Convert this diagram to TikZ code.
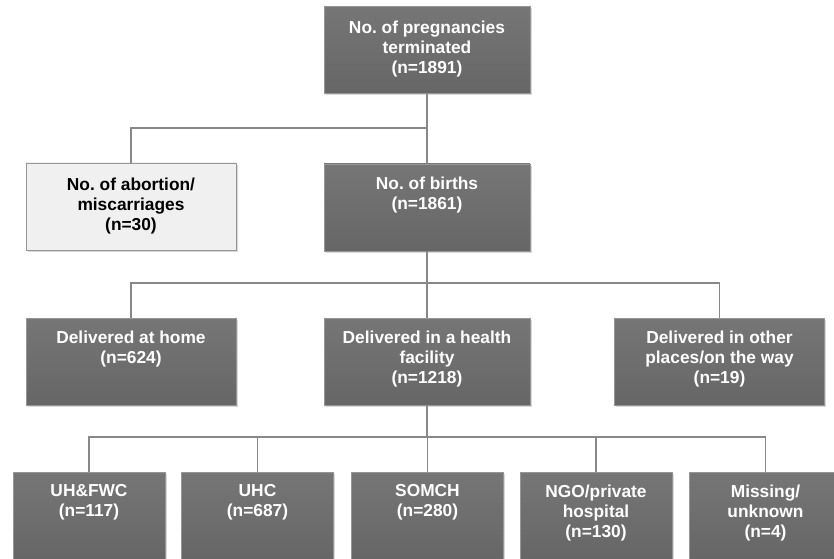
\documentclass[tikz,border=0pt]{standalone}
\usepackage{fontspec}
\setmainfont{Liberation Sans}
\usetikzlibrary{shadows}
\definecolor{boxgray}{RGB}{102,102,102}
\definecolor{boxtop}{RGB}{118,118,118}
\definecolor{boxedge}{RGB}{150,150,150}
\definecolor{linegray}{RGB}{136,136,136}
\definecolor{lightbox}{RGB}{240,240,240}
\definecolor{lightedge}{RGB}{150,150,150}
\frenchspacing
\begin{document}
\begin{tikzpicture}[x=0.75pt,y=-0.75pt,
  box/.style={rectangle, draw=boxedge, line width=0.6pt, top color=boxtop, bottom color=boxgray, inner sep=0pt,
    minimum height=65.25pt,
    drop shadow={opacity=0.3, shadow xshift=1.2pt, shadow yshift=-1.5pt}},
  wide/.style={minimum width=154.5pt},
  wider/.style={minimum width=157.5pt},
  small/.style={minimum width=114pt},
  lbox/.style={box, top color=lightbox, bottom color=lightbox, draw=lightedge},
  txt/.style={anchor=north, align=center, inner sep=0pt, text=white,
    font=\bfseries\fontsize{13}{15}\selectfont},
  dtxt/.style={txt, text=black},
  conn/.style={draw=linegray, line width=1.4pt}
]
\fill[white] (0,0) rectangle (834,559);
\useasboundingbox (0,0) rectangle (834,559);

% boxes
\node[box, wide] (top) at (427,50) {};
\node[lbox, wider] (abort) at (131,206.5) {};
\node[box, wide] (births) at (427,207.5) {};
\node[box, wider] (home) at (131,361.5) {};
\node[box, wide] (facil) at (427,361.5) {};
\node[box, wider] (other) at (719.5,361.5) {};
\node[box, small] (uh) at (89,515.5) {};
\node[box, small] (uhc) at (257.5,515.5) {};
\node[box, small] (som) at (427.5,515.5) {};
\node[box, small] (ngo) at (596,515.5) {};
\node[box, small] (miss) at (765.5,515.5) {};

% texts
\node[txt] (ttop) at ([yshift=-11pt]top.north) {No. of pregnancies\\terminated\\(n=1891)};
\node[dtxt] (tabort) at ([yshift=-11pt]abort.north) {No. of abortion/\\miscarriages\\(n=30)};
\node[txt] (tbirths) at ([yshift=-10pt]births.north) {No. of births\\(n=1861)};
\node[txt] (thome) at ([yshift=-9.5pt]home.north) {Delivered at home\\(n=624)};
\node[txt] (tfacil) at ([yshift=-9.5pt]facil.north) {Delivered in a health\\facility\\(n=1218)};
\node[txt] (tother) at ([yshift=-9.5pt]other.north) {Delivered in other\\places/on the way\\(n=19)};
\node[txt] (tuh) at ([yshift=-9.5pt]uh.north) {UH\&FWC\\(n=117)};
\node[txt] (tuhc) at ([yshift=-9.5pt]uhc.north) {UHC\\(n=687)};
\node[txt] (tsom) at ([yshift=-9.5pt]som.north) {SOMCH\\(n=280)};
\node[txt] (tngo) at ([yshift=-9.5pt]ngo.north) {NGO/private\\hospital\\(n=130)};
\node[txt] (tmiss) at ([yshift=-9.5pt]miss.north) {Missing/\\unknown\\(n=4)};

% connectors
\draw[conn] (top.south) -- (births.north);
\draw[conn] (top.south |- 0,128) -| (abort.north);
\draw[conn] (births.south) -- (births.south |- 0,283) -| (home.north);
\draw[conn] (births.south |- 0,283) -| (other.north);
\draw[conn] (births.south |- 0,283) -- (facil.north);
\draw[conn] (facil.south) -- (facil.south |- 0,437) -| (uh.north);
\draw[conn] (facil.south |- 0,437) -| (uhc.north);
\draw[conn] (facil.south |- 0,437) -| (som.north);
\draw[conn] (facil.south |- 0,437) -| (ngo.north);
\draw[conn] (facil.south |- 0,437) -| (miss.north);
\end{tikzpicture}
\end{document}
